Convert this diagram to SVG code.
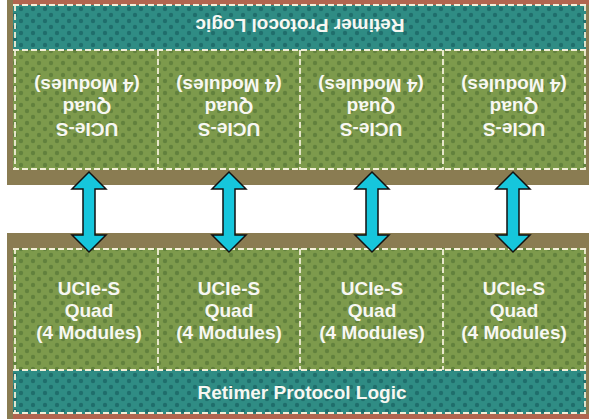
<svg xmlns="http://www.w3.org/2000/svg" width="589" height="419" viewBox="0 0 589 419">
<defs>
<pattern id="dg" width="12" height="12" patternUnits="userSpaceOnUse">
<rect width="12" height="12" fill="#7d9a4c"/>
<circle cx="3" cy="3" r="2.2" fill="#62813d"/>
<circle cx="9" cy="9" r="2.2" fill="#62813d"/>
</pattern>
<pattern id="dt" width="12" height="12" patternUnits="userSpaceOnUse">
<rect width="12" height="12" fill="#2f8c84"/>
<circle cx="3" cy="3" r="2.2" fill="#1f6e6c"/>
<circle cx="9" cy="9" r="2.2" fill="#1f6e6c"/>
</pattern>
</defs>
<style>
.die{fill:#8a7c52}
.red{fill:#b1654f}
.g{fill:url(#dg)}
.t{fill:url(#dt)}
.d{stroke:#f2efd8;stroke-width:1.8;stroke-dasharray:6 3;fill:none}
.tx{font-family:"Liberation Sans",Arial,sans-serif;font-weight:bold;fill:#f7f7f2;text-anchor:middle}
.q{font-size:19px}
.r{font-size:19px}
.ar{fill:#16c6dc;stroke:#111;stroke-width:1.5;stroke-linejoin:miter}
</style>

<g id="top-die">
<rect class="die" x="7" y="0" width="582" height="185"/>
<rect class="red" x="13" y="0" width="576" height="5"/>
<rect class="t" x="13" y="5" width="573" height="45"/>
<rect class="g" x="13" y="50" width="573" height="120"/>
<path class="d" d="M13 5H586M13 50H586M13 169H586M15 5V170M585 5V170M158 50V170M300 50V170M443 50V170"/>
</g>
<g id="top-retimer">
<text class="tx r" transform="rotate(180 300 25)" x="300" y="31.5">Retimer Protocol Logic</text>
</g>
<g id="top-quad-1"><g transform="rotate(180 87 107)"><text class="tx q" x="87" y="91.5">UCIe-S</text><text class="tx q" x="87" y="113.5">Quad</text><text class="tx q" x="87" y="135.5">(4 Modules)</text></g></g>
<g id="top-quad-2"><g transform="rotate(180 229 107)"><text class="tx q" x="229" y="91.5">UCIe-S</text><text class="tx q" x="229" y="113.5">Quad</text><text class="tx q" x="229" y="135.5">(4 Modules)</text></g></g>
<g id="top-quad-3"><g transform="rotate(180 371 107)"><text class="tx q" x="371" y="91.5">UCIe-S</text><text class="tx q" x="371" y="113.5">Quad</text><text class="tx q" x="371" y="135.5">(4 Modules)</text></g></g>
<g id="top-quad-4"><g transform="rotate(180 514 107)"><text class="tx q" x="514" y="91.5">UCIe-S</text><text class="tx q" x="514" y="113.5">Quad</text><text class="tx q" x="514" y="135.5">(4 Modules)</text></g></g>

<g id="bottom-die">
<rect class="die" x="7" y="233" width="582" height="186"/>
<rect class="g" x="13" y="248" width="573" height="122"/>
<rect class="t" x="13" y="370" width="573" height="44"/>
<rect class="red" x="13" y="414" width="576" height="5"/>
<path class="d" d="M13 249H586M13 370H586M13 413H586M15 248V414M585 248V414M158 249V370M300 249V370M443 249V370"/>
</g>
<g id="bottom-quad-1"><text class="tx q" x="89" y="295">UCIe-S</text><text class="tx q" x="89" y="317">Quad</text><text class="tx q" x="89" y="339">(4 Modules)</text></g>
<g id="bottom-quad-2"><text class="tx q" x="229" y="295">UCIe-S</text><text class="tx q" x="229" y="317">Quad</text><text class="tx q" x="229" y="339">(4 Modules)</text></g>
<g id="bottom-quad-3"><text class="tx q" x="372" y="295">UCIe-S</text><text class="tx q" x="372" y="317">Quad</text><text class="tx q" x="372" y="339">(4 Modules)</text></g>
<g id="bottom-quad-4"><text class="tx q" x="514" y="295">UCIe-S</text><text class="tx q" x="514" y="317">Quad</text><text class="tx q" x="514" y="339">(4 Modules)</text></g>
<g id="bottom-retimer">
<text class="tx r" x="302" y="398.5">Retimer Protocol Logic</text>
</g>

<g id="connectors">
<polygon class="ar" points="89,172 106,189 95,189 95,235 106,235 89,252 72,235 83,235 83,189 72,189"/>
<polygon class="ar" points="229,172 246,189 235,189 235,235 246,235 229,252 212,235 223,235 223,189 212,189"/>
<polygon class="ar" points="372,172 389,189 378,189 378,235 389,235 372,252 355,235 366,235 366,189 355,189"/>
<polygon class="ar" points="513,172 530,189 519,189 519,235 530,235 513,252 496,235 507,235 507,189 496,189"/>
</g>
</svg>
